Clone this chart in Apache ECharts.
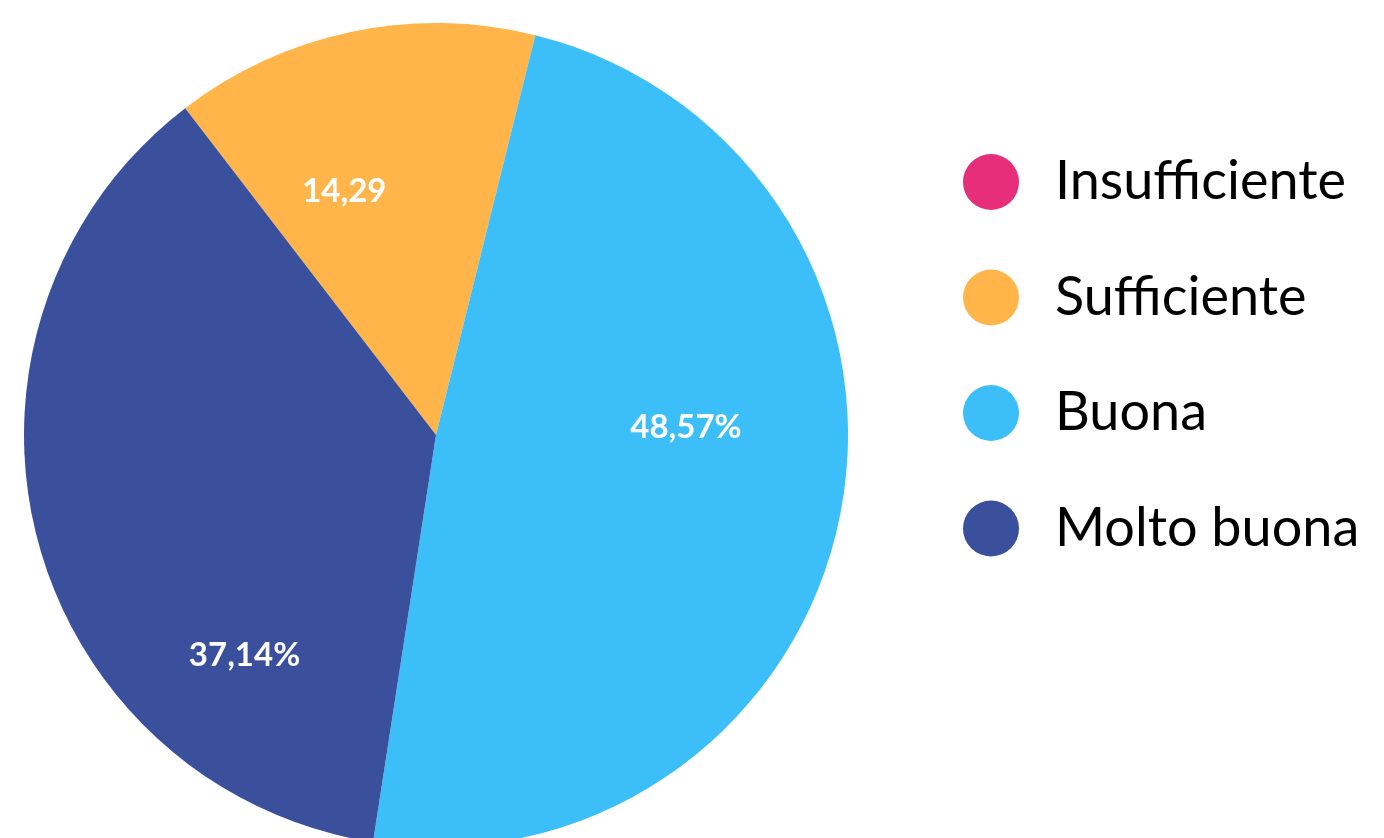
<!DOCTYPE html>
<html>
<head>
<meta charset="utf-8">
<script src="https://cdn.jsdelivr.net/npm/echarts@6/dist/echarts.min.js"></script>
<style>
  html, body { margin: 0; padding: 0; background: #fff; }
  #chart { width: 1384px; height: 838px; }
</style>
</head>
<body>
<div id="chart"></div>
<script>
// dati
var categories = ['Insufficiente', 'Sufficiente', 'Buona', 'Molto buona'];
var values = [0, 14.29, 48.57, 37.14];
var labelTexts = ['', '14,29', '48,57%', '37,14%'];

var colors = ['#e62e7a', '#ffb54a', '#3cbff8', '#3a509d'];
// spostamento delle etichette rispetto alla posizione interna
var labelOffsets = [[0, 0], [-49, -39], [45, -49], [11, 169]];

window.onload = function(){
    var myChart = echarts.init(document.getElementById('chart'));

    var data = categories.map(function(name, i){
        return {
            name: name,
            value: values[i],
            label: { offset: labelOffsets[i] }
        };
    });

    var option = {
        animation: false,
        color: colors,
        legend: {
            orient: 'vertical',
            left: 963,
            top: 154,
            padding: 0,
            icon: 'circle',
            itemWidth: 56,
            itemHeight: 56,
            itemGap: 59.5,
            data: categories,
            textStyle: {
                fontFamily: 'Lato',
                fontWeight: 'normal',
                fontSize: 54,
                color: '#000',
                lineHeight: 56,
                padding: [0, 0, 0, 31]
            }
        },
        series: [
            {
                type: 'pie',
                center: [436, 435],
                radius: [0, 412],
                startAngle: 127.5,
                clockwise: true,
                avoidLabelOverlap: false,
                silent: true,
                label: {
                    show: true,
                    position: 'inside',
                    color: '#fff',
                    fontFamily: 'Lato',
                    fontWeight: 'bold',
                    fontSize: 33,
                    formatter: function(p){ return labelTexts[p.dataIndex]; }
                },
                labelLine: { show: false },
                data: data
            }
        ]
    };

    myChart.setOption(option);
}
</script>
</body>
</html>
